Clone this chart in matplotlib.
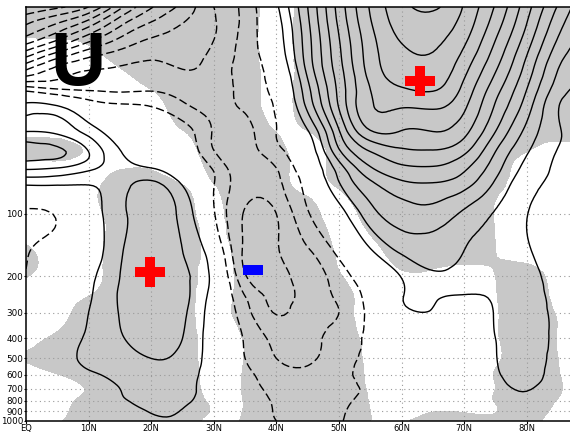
import numpy as np
import matplotlib
matplotlib.use("Agg")
import matplotlib.pyplot as plt
import matplotlib.tri as mtri
from matplotlib.ticker import NullLocator

# ---------------- data ----------------
LATS = [0, 5, 10, 15, 20, 25, 30, 35, 40, 45, 50, 55, 60, 65, 70, 75, 80, 85, 90]
LEVELS = [10, 12, 15, 20, 25, 30, 40, 50, 60, 70, 100, 150, 200, 250, 300,
          400, 500, 600, 700, 800, 900, 1000]

# U anomaly per latitude column, top (10 hPa) to bottom (1000 hPa)
U_EQ = [-13.0, -11.1, -9.1, -5.1, -1.4, 1.3, 3.0, 4.5, 3.2, 1.4, -1.2, -1.1, -0.95, -0.6, -0.4, -0.2, 0.0, 0.1, 0.2, 0.3, 0.3, 0.3]
U_05 = [-12.2, -10.0, -7.5, -3.7, -1.95, 1.0, 2.8, 4.2, 3.0, 1.35, -0.9, -0.5, -0.3, -0.2, 0.0, 0.2, 0.4, 0.5, 0.4, 0.3, 0.3, 0.3]
U_10 = [-11.0, -8.5, -5.8, -3.05, -2.1, -0.3, 1.6, 3.0, 2.3, 1.15, 0.3, 0.3, 0.7, 0.85, 1.0, 1.2, 1.3, 0.8, 0.5, 0.4, 0.3, 0.3]
U_15 = [-8.3, -6.3, -4.5, -2.9, -2.2, -0.85, 0.3, 1.05, 1.3, 1.5, 1.75, 1.85, 2.0, 2.1, 2.05, 1.9, 1.6, 1.3, 1.0, 0.9, 0.6, 0.5]
U_20 = [-6.1, -4.9, -3.7, -2.75, -2.1, -1.05, -0.1, 0.6, 1.0, 2.1, 2.45, 2.5, 2.7, 2.75, 2.7, 2.5, 2.0, 1.6, 1.4, 1.2, 1.05, 0.8]
U_25 = [-4.7, -4.0, -3.5, -3.0, -2.4, -1.8, -0.5, 0.0, 0.3, 0.8, 1.7, 2.0, 2.2, 2.3, 2.2, 2.0, 1.7, 1.5, 1.4, 1.2, 0.95, 0.8]
U_30 = [-3.0, -3.1, -2.95, -2.6, -2.45, -2.3, -2.1, -1.95, -1.15, -0.95, -0.9, 0.1, 0.6, 0.5, 0.4, 0.4, 0.45, 0.4, 0.4, 0.5, 0.4, 0.4]
U_35 = [-1.7, -1.7, -1.6, -1.6, -1.7, -1.85, -2.3, -2.5, -2.7, -2.6, -3.1, -3.2, -2.9, -2.0, -1.6, -1.1, -1.0, -0.7, -0.4, 0.0, 0.0, 0.0]
U_40 = [0.8, 0.5, 0.3, -0.2, -0.5, -0.8, -1.0, -1.3, -2.0, -2.2, -3.0, -3.1, -3.4, -3.2, -3.05, -2.3, -2.0, -1.6, -1.4, -1.2, -1.1, -1.0]
U_45 = [4.0, 3.8, 3.6, 3.3, 2.7, 2.3, 0.9, 0.2, -0.1, -0.5, -1.1, -2.1, -2.6, -2.7, -2.6, -2.3, -2.15, -1.75, -1.5, -1.4, -1.3, -1.2]
U_50 = [7.4, 7.2, 6.9, 6.6, 6.3, 6.1, 4.9, 3.8, 2.5, 2.0, 0.5, -0.7, -1.5, -1.8, -2.0, -1.6, -1.5, -1.3, -1.3, -1.2, -1.1, -1.05]
U_55 = [10.1, 9.9, 9.6, 9.4, 9.0, 8.9, 7.9, 6.0, 4.9, 3.9, 2.6, 0.9, -0.2, -0.6, -0.7, -0.8, -0.7, -0.6, -0.8, -0.7, -0.6, -0.6]
U_60 = [11.7, 11.4, 11.0, 10.5, 9.9, 9.1, 7.95, 6.8, 5.8, 4.9, 3.5, 2.2, 1.05, 0.95, 0.7, -0.3, -0.3, -0.2, -0.3, -0.3, -0.3, -0.3]
U_65 = [12.15, 11.6, 11.15, 10.7, 10.1, 9.2, 8.0, 6.9, 5.9, 5.05, 3.6, 2.5, 1.8, 1.1, 0.95, 0.2, 0.0, 0.0, 0.0, 0.0, 0.0, -0.1]
U_70 = [10.9, 10.6, 10.1, 9.3, 8.7, 8.2, 7.3, 6.2, 5.2, 4.5, 2.8, 2.0, 1.6, 0.95, 0.7, 0.4, 0.2, 0.3, 0.3, 0.2, 0.1, 0.1]
U_75 = [8.9, 8.5, 7.9, 7.1, 6.4, 5.9, 5.0, 4.0, 3.4, 2.9, 1.9, 1.6, 1.3, 1.1, 1.05, 1.0, 0.95, 0.85, 0.7, 0.5, 0.4, 0.3]
U_80 = [6.4, 6.0, 5.4, 4.6, 4.0, 3.5, 2.7, 2.1, 1.7, 1.4, 1.02, 1.1, 1.25, 1.3, 1.4, 1.5, 1.5, 1.4, 1.05, 0.85, 0.6, 0.5]
U_85 = [3.9, 3.4, 2.8, 2.0, 1.5, 1.05, 1.1, 0.95, 0.85, 0.8, 0.6, 0.5, 0.6, 0.7, 0.75, 0.7, 0.6, 0.5, 0.5, 0.5, 0.4, 0.3]
U_90 = [2.0, 1.8, 1.5, 1.1, 0.8, 0.6, 0.7, 0.6, 0.55, 0.5, 0.4, 0.3, 0.3, 0.3, 0.4, 0.4, 0.3, 0.3, 0.3, 0.3, 0.3, 0.2]

# significance (shaded where > 0.5), per pressure level row, lats 0..90
S_10 = [1, 1, 1, 1, 1, 1, 1, 1, 0.1, 1, 1, 1, 1, 1, 1, 1, 1, 1, 1]
S_12 = [1, 1, 1, 1, 1, 1, 1, 1, 0.1, 1, 1, 1, 1, 1, 1, 1, 1, 1, 1]
S_15 = [0.3, 0.35, 0.55, 1, 1, 1, 1, 1, 0.1, 1, 1, 1, 1, 1, 1, 1, 1, 1, 1]
S_20 = [0, 0, 0, 0.45, 1, 1, 1, 1, 0.1, 1, 1, 1, 1, 1, 1, 1, 1, 1, 1]
S_25 = [0, 0, 0, 0, 0.5, 1, 1, 1, 0.15, 1, 1, 1, 1, 1, 1, 1, 1, 1, 1]
S_30 = [0, 0, 0, 0, 0, 1, 1, 1, 0.2, 0.9, 1, 1, 1, 1, 1, 1, 1, 1, 1]
S_40 = [0, 0, 0, 0, 0, 0.45, 1, 1, 0.48, 0.48, 1, 1, 1, 1, 1, 1, 1, 1, 1]
S_50 = [1, 1, 0.35, 0, 0, 0, 1, 1, 0.85, 0, 1, 1, 1, 1, 1, 1, 0.5, 0, 0]
S_60 = [0, 0, 0, 0.4, 0.4, 0, 0.75, 1, 1, 0, 1, 1, 1, 1, 1, 1, 0, 0, 0]
S_70 = [0, 0, 0, 1, 1, 0.4, 0.52, 1, 1, 0, 0.8, 1, 1, 1, 1, 0.8, 0, 0, 0]
S_100 = [0, 0, 0, 1, 1, 0.8, 0.3, 1, 1, 1, 0, 1, 1, 1, 1, 0.45, 0, 0, 0]
S_150 = [0.65, 0, 0, 1, 1, 1, 0.2, 1, 1, 1, 0.3, 0.1, 1, 1, 1, 0.5, 0, 0, 0]
S_200 = [0.55, 0, 0, 1, 1, 1, 0, 1, 1, 1, 0.6, 0, 0.3, 0.3, 0.1, 0.5, 1, 0, 0]
S_250 = [0, 0, 0.5, 1, 1, 1, 0, 1, 1, 1, 1, 0, 0, 0, 0, 0.45, 1, 0.2, 0]
S_300 = [0, 0.1, 1, 1, 1, 1, 0, 1, 1, 1, 1, 0, 0, 0, 0, 0.4, 1, 0.4, 0]
S_400 = [0, 0.7, 1, 1, 1, 1, 0, 0.6, 1, 1, 1, 0.2, 0, 0, 0, 0.4, 1, 0.45, 0]
S_500 = [0.6, 1, 1, 1, 1, 1, 0, 0.55, 1, 1, 1, 0.3, 0, 0, 0, 0.35, 1, 0.5, 0]
S_600 = [0, 0.45, 1, 1, 1, 1, 0.1, 0.6, 1, 1, 1, 0.35, 0, 0, 0, 0.55, 1, 0.55, 0]
S_700 = [0, 0, 0.6, 1, 1, 1, 0.2, 0.6, 1, 1, 1, 0.4, 0, 0, 0, 0.5, 1, 0.6, 0]
S_800 = [0, 0.1, 0.8, 1, 1, 1, 0.35, 0.55, 1, 1, 1, 0.45, 0, 0, 0, 0.55, 1, 0.45, 0]
S_900 = [0, 0.2, 1, 1, 1, 1, 0.45, 0.55, 1, 1, 1, 0.5, 0, 0.45, 0.4, 0.45, 1, 0.25, 0]
S_1000 = [0, 0.4, 1, 1, 1, 1, 0.3, 0.6, 1, 1, 1, 0.5, 0.35, 1, 1, 1, 1, 0, 0]

# markers
PLUS_LAT = [19.8, 63.0]
PLUS_P = [191.0, 22.7]
MINUS_LAT = [36.3]
MINUS_P = [186.6]

XTICKS = [0, 10, 20, 30, 40, 50, 60, 70, 80]
XTICKLABELS = ["EQ", "10N", "20N", "30N", "40N", "50N", "60N", "70N", "80N"]
YTICKS = [100, 200, 300, 400, 500, 600, 700, 800, 900, 1000]
YTICKLABELS = ["100", "200", "300", "400", "500", "600", "700", "800", "900", "1000"]

POS_LEVELS = list(range(1, 15))
NEG_LEVELS = list(range(-15, 0))

# ---------------- build fields ----------------
u = np.array([U_EQ, U_05, U_10, U_15, U_20, U_25, U_30, U_35, U_40, U_45,
              U_50, U_55, U_60, U_65, U_70, U_75, U_80, U_85, U_90]).T  # (lev, lat)
sig = np.array([S_10, S_12, S_15, S_20, S_25, S_30, S_40, S_50, S_60, S_70,
                S_100, S_150, S_200, S_250, S_300, S_400, S_500, S_600,
                S_700, S_800, S_900, S_1000], dtype=float)

nlev, nlat = u.shape
LAT2, LEV2 = np.meshgrid(np.array(LATS, float), np.array(LEVELS, float))
XS, YS = 6.26, 206.7  # rough pixel scaling so the triangulation is isotropic
xs = (LAT2 * XS).ravel()
ys = (np.log10(LEV2) * YS).ravel()

tris = []
for j in range(nlev - 1):
    for i in range(nlat - 1):
        a = j * nlat + i
        b = a + 1
        c = a + nlat
        d = c + 1
        tris.append([a, b, d])
        tris.append([a, d, c])
tri = mtri.Triangulation(xs, ys, np.array(tris))
refiner = mtri.UniformTriRefiner(tri)
tri_r, u_r = refiner.refine_field(u.ravel(), subdiv=3)
tri_r2, s_r = refiner.refine_field(sig.ravel(), subdiv=3)
plot_tri = mtri.Triangulation(tri_r.x / XS, 10 ** (tri_r.y / YS), tri_r.triangles)

# ---------------- figure ----------------
W, H = 570, 433
fig = plt.figure(figsize=(W / 100, H / 100), dpi=100)
x0, x1 = 26.0, 26.0 + 90 * 6.26
y_top, y_bot = 7.0, 420.7
ax = fig.add_axes([x0 / W, 1 - y_bot / H, (x1 - x0) / W, (y_bot - y_top) / H])

ax.set_yscale("log")
ax.set_xlim(0, 90)
ax.set_ylim(1000, 10)

ax.tricontourf(plot_tri, s_r, levels=[0.5, 100], colors=["#c8c8c8"], zorder=1)

# grid
for xv in XTICKS[1:]:
    ax.axvline(xv, color="#9a9a9a", lw=0.8, ls=(0, (1, 3)), zorder=1.5)
for yv in YTICKS[:-1]:
    ax.axhline(yv, color="#9a9a9a", lw=0.8, ls=(0, (1, 3)), zorder=1.5)

ax.tricontour(plot_tri, u_r, levels=NEG_LEVELS, colors="k", linewidths=1.0,
              linestyles=[(0, (6, 2.6))], zorder=2)
ax.tricontour(plot_tri, u_r, levels=POS_LEVELS, colors="k", linewidths=1.0,
              linestyles="solid", zorder=2)

ax.plot(PLUS_LAT, PLUS_P, ls="none", marker="P", ms=21.6, color="#ff0000",
        mew=0, zorder=4)
ax.plot(MINUS_LAT, MINUS_P, ls="none",
        marker=[(-1, -0.5), (1, -0.5), (1, 0.5), (-1, 0.5), (-1, -0.5)],
        ms=14.4, color="#0000ff", mew=0, zorder=4)

fig.text(77.5 / W, 1 - 84.5 / H, "U", fontsize=55, fontweight="bold",
         family=["Liberation Sans", "DejaVu Sans"], ha="center",
         va="baseline", color="black", zorder=5)

ax.set_xticks(XTICKS)
ax.set_xticklabels(XTICKLABELS)
ax.set_yticks(YTICKS)
ax.set_yticklabels(YTICKLABELS)
ax.yaxis.set_minor_locator(NullLocator())
ax.xaxis.set_minor_locator(NullLocator())
ax.tick_params(axis="y", labelsize=6.3, length=1.5, width=0.8, pad=0.5,
               direction="out", colors="black")
ax.tick_params(axis="x", labelsize=6.0, length=2, width=0.8, pad=0.3,
               direction="out", colors="black")
for side in ["left", "bottom", "top", "right"]:
    ax.spines[side].set_linewidth(1.1)
    ax.spines[side].set_zorder(6)

fig.savefig("out.png", dpi=100)
